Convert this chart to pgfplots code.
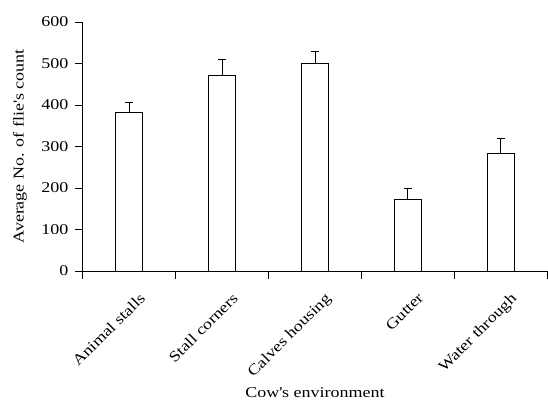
\documentclass[border=0pt]{standalone}
\usepackage{fontspec}
\setmainfont[FakeStretch=1.2]{Liberation Serif}
\usepackage{pgfplots}
\pgfplotsset{compat=1.18}
\begin{document}
\begin{tikzpicture}[x=1bp,y=1bp]
\useasboundingbox (-83bp,-130bp) rectangle (465bp,271bp);
\begin{axis}[
  at={(0,0)}, anchor=origin,
  scale only axis,
  width=464bp, height=249bp,
  xmin=0, xmax=5, ymin=0, ymax=600,
  axis lines=left,
  axis line style={-, line width=1bp, black},
  every tick/.style={black, line width=1bp},
  tick align=outside,
  major tick length=8bp,
  ytick={0,100,...,600},
  xtick={0.5,1.5,2.5,3.5,4.5},
  xticklabels={Animal stalls,Stall corners,Calves housing,Gutter,Water through},
  x tick style={draw=none},
  minor xtick={0,1,2,3,4,5},
  minor x tick style={draw=black, line width=1bp},
  minor tick length=8bp,
  /pgf/number format/assume math mode=true,
  tick label style={font=\fontsize{15bp}{18bp}\selectfont},
  yticklabel style={xshift=-3bp},
  xticklabel style={rotate=45, anchor=north east, inner sep=1bp, xshift=-1.5bp, yshift=-14.5bp},
  label style={font=\fontsize{15bp}{18bp}\selectfont},
  ylabel={Average No. of flie\textquotesingle s count},
  ylabel style={at={(axis description cs:-0.1358,0.5)}, anchor=center},
  xlabel={Cow\textquotesingle s environment},
  xlabel style={at={(axis description cs:0.5,0)}, anchor=base, yshift=-126bp},
  ybar, bar width=27bp,
  clip=false,
]
\addplot[draw=black, fill=white, line width=1bp,
  error bars/.cd, y dir=plus, y explicit,
  error bar style={line width=1bp, black},
  error mark options={rotate=90, mark size=4bp, line width=1bp, black}]
  table[x=x, y=y, y error=e] {
x y e
0.5 381 26
1.5 471 39
2.5 501 27
3.5 172 28
4.5 284 36
};
\end{axis}
\end{tikzpicture}
\end{document}
